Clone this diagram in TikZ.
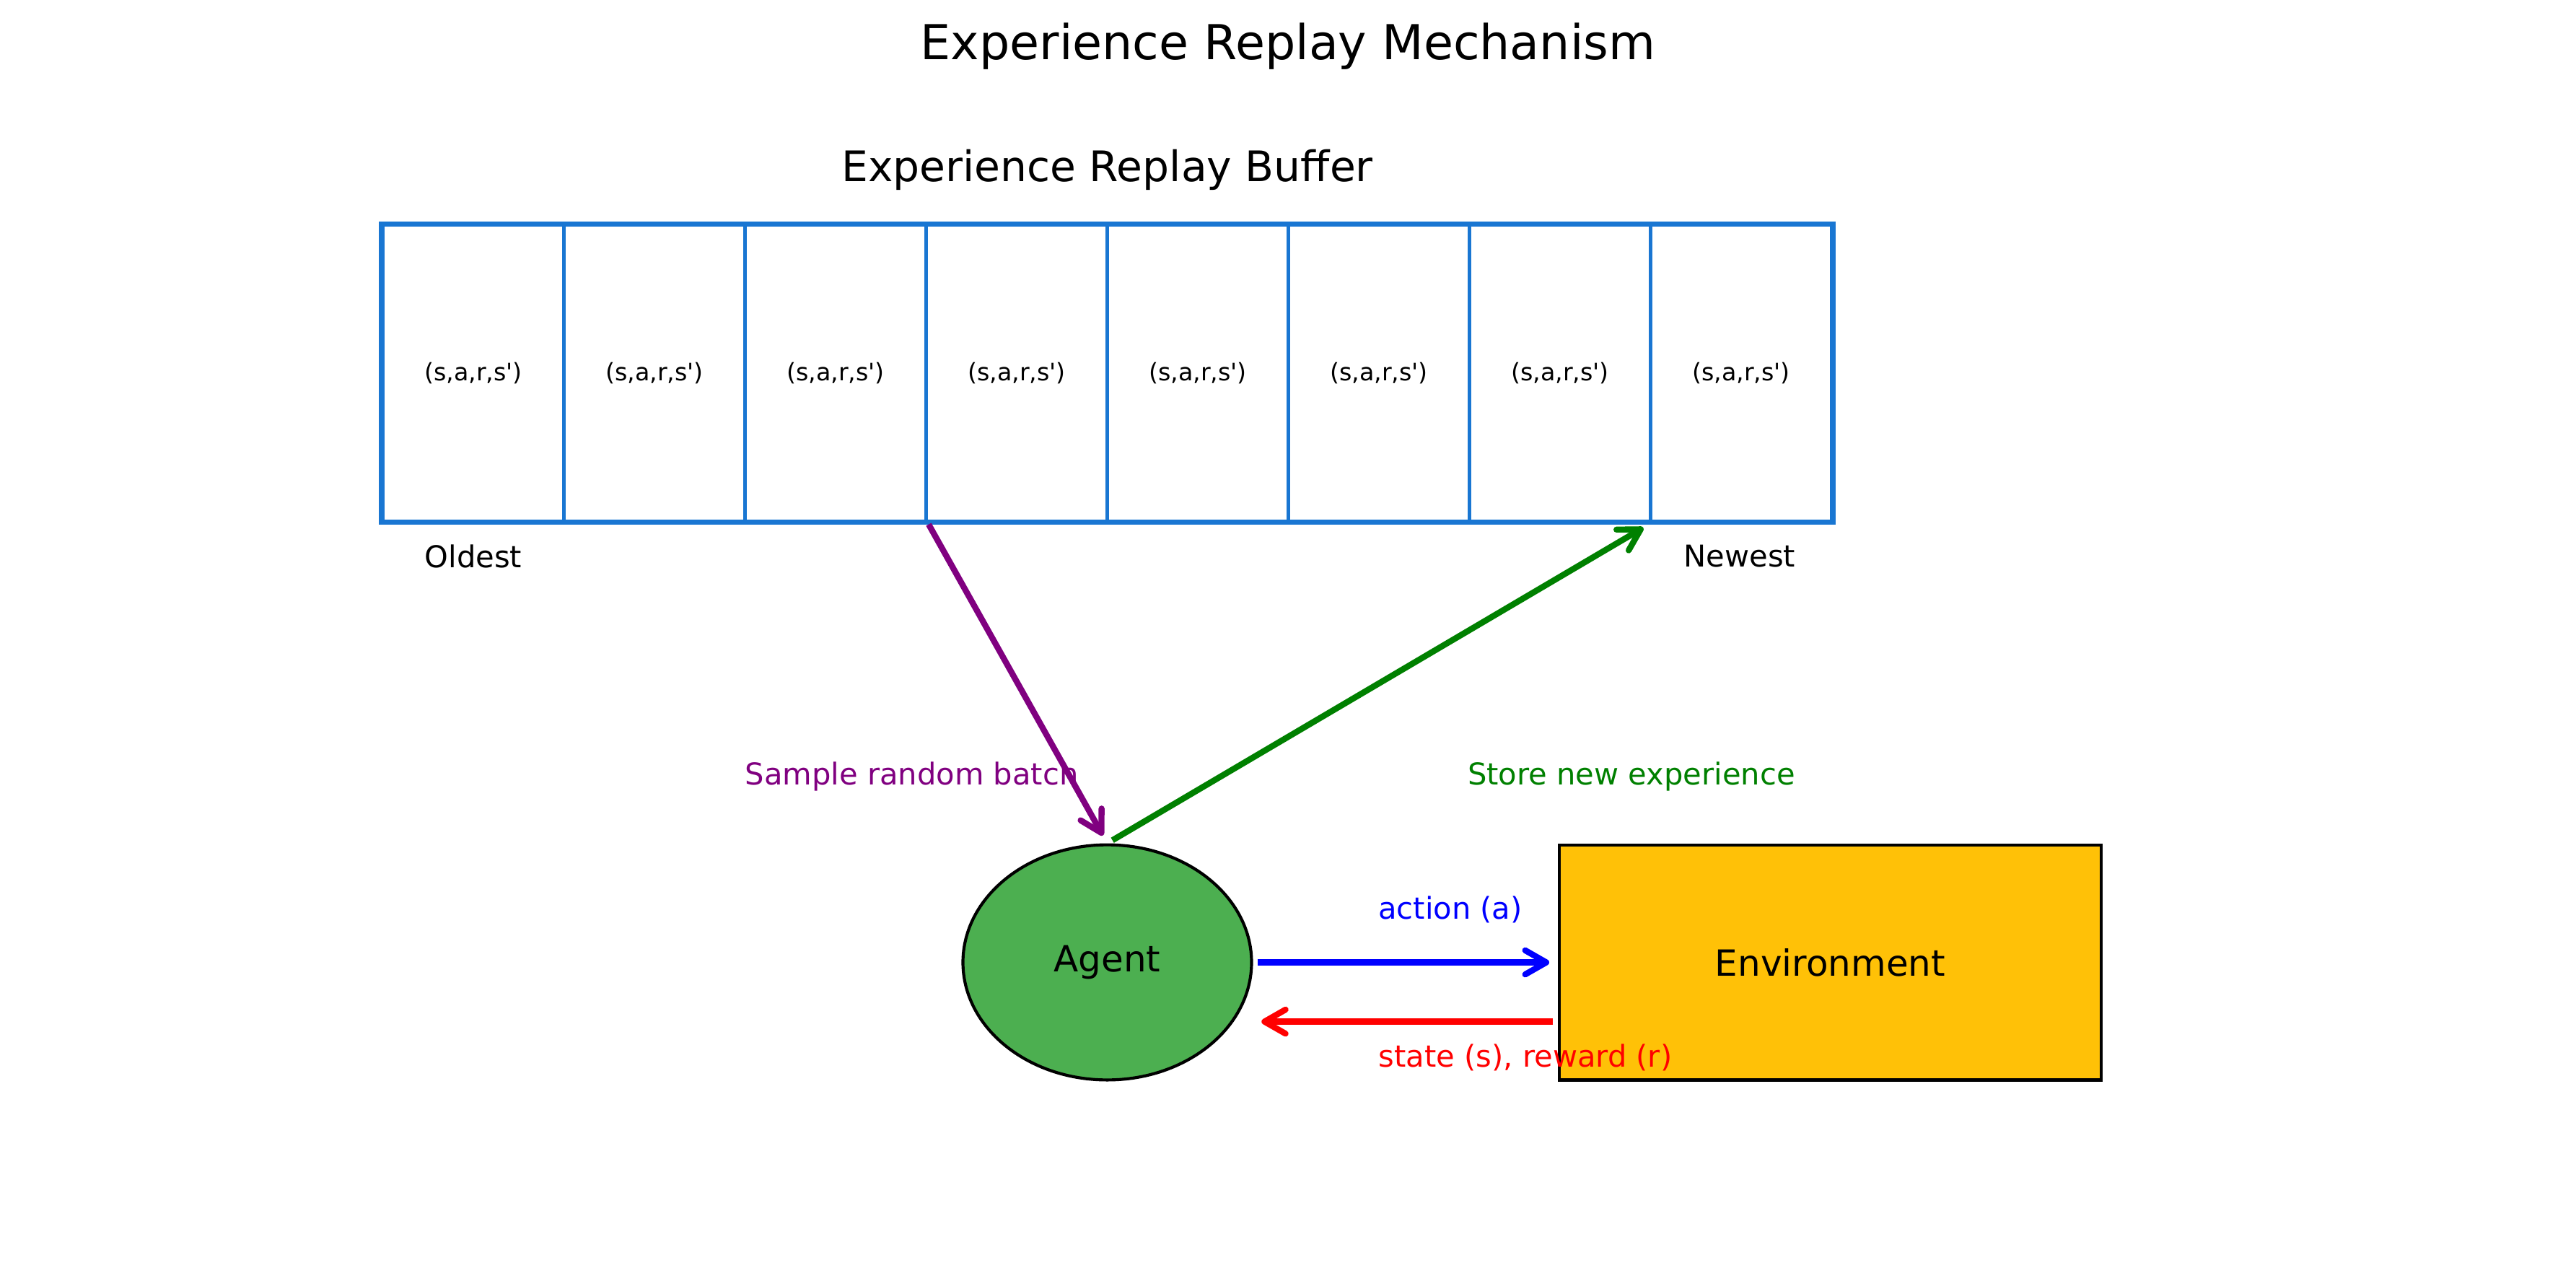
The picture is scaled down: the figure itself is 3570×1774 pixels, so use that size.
\documentclass[tikz,border=0pt]{standalone}
\usepackage{fontspec}
\setmainfont{DejaVu Sans}
\usetikzlibrary{arrows.meta}
\usetikzlibrary{shapes.geometric}
\definecolor{mblue}{rgb}{0.098, 0.463, 0.824}
\definecolor{mgreen}{rgb}{0, 0.5, 0}
\definecolor{mpurple}{rgb}{0.5, 0, 0.5}
\definecolor{magent}{rgb}{0.298, 0.686, 0.314}
\definecolor{menv}{rgb}{1, 0.757, 0.027}
\tikzset{cell/.style = {draw = mblue, line width = 1pt, inner sep = 0,
    minimum width = 60.24pt, minimum height = 98.4pt, font = \fontsize{8}{10}\selectfont}}
\tikzset{lbl/.style = {inner sep = 0, font = \fontsize{10}{12}\selectfont}}
\tikzset{arr/.style = {line width = 2pt, -{Straight Barb[length = 7pt, width = 8pt, round]},
    shorten > = 2.8pt, shorten < = 1.5pt}}
\newcommand{\sars}{(s,a,r,s\textquotesingle)}

\begin{document}
\begin{tikzpicture}[x = 0.24pt, y = -0.24pt]
          \useasboundingbox (0, 0) rectangle (3570, 1774);

          \node [font = \fontsize{16}{19}\selectfont] (title) at (1785, 64) {Experience Replay Mechanism};
          \node [font = \fontsize{14}{17}\selectfont] (buftitle) at (1534.5, 235) {Experience Replay Buffer};

          \foreach \i in {1, ..., 8}
            \node [cell] (c\i) at ({530.5 + (\i - 0.5)*251}, 517) {\sars};
          \draw [mblue, line width = 1.5pt] (c1.north west) rectangle (c8.south east);

          \node [lbl] (oldest) at (656, 771) {Oldest};
          \node [lbl] (newest) at (2411, 771) {Newest};

          \node [draw, ellipse, fill = magent, line width = 1pt, inner sep = 0,
                 minimum width = 96pt, minimum height = 78.2pt,
                 font = \fontsize{12}{14}\selectfont] (agent) at (1534.5, 1333.5) {\raisebox{-0.5pt}{Agent}};
          \node [draw, fill = menv, line width = 1pt, inner sep = 0,
                 minimum width = 180.3pt, minimum height = 78.2pt,
                 font = \fontsize{12}{14}\selectfont] (env) at (2536.4, 1333.5) {Environment};

          \draw [arr, blue] (agent.east) -- (env.west);
          \draw [arr, red] ([yshift = -19.7pt]env.west) -- ([yshift = -19.7pt]agent.east);
          \draw [arr, mpurple, shorten > = 3pt, shorten < = 0.7pt] (c3.south east) -- (agent.north);
          \draw [arr, mgreen, shorten > = 3.4pt, shorten < = 2pt] (agent.north) -- (c7.south east);

          \node [lbl, blue] (act) at (2010, 1260) {action (a)};
          \node [lbl, red] (obs) at (2114, 1465) {state (s), reward (r)};
          \node [lbl, mpurple] (sample) at (1263.6, 1076) {Sample random batch};
          \node [lbl, mgreen] (store) at (2261, 1076) {Store new experience};
        \end{tikzpicture}
\end{document}
